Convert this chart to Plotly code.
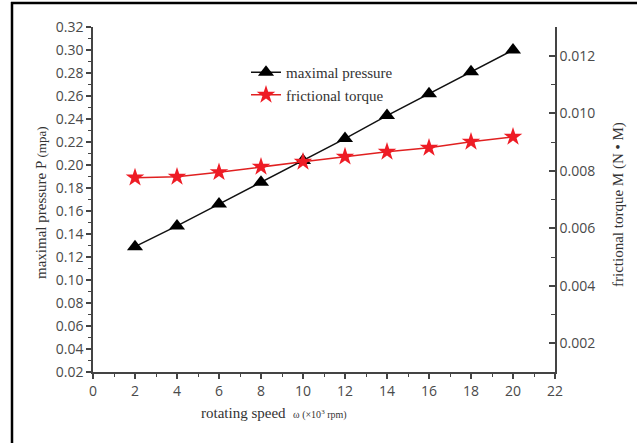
import plotly.graph_objects as go

speed = [2, 4, 6, 8, 10, 12, 14, 16, 18, 20]
max_pressure = [0.129, 0.147, 0.166, 0.185, 0.204, 0.223, 0.243, 0.262, 0.281, 0.300]
fric_torque = [0.00776, 0.00779, 0.00795, 0.00814, 0.00831, 0.00849, 0.00866, 0.00880, 0.00901, 0.00918]

L, R, T, B = 93, 82, 27, 71
W, H = 637, 443
pw, ph = W - L - R, H - T - B

def px(x):
    return (x - L) / pw

def py(y):
    return 1 - (y - T) / ph

fig = go.Figure()
fig.add_trace(go.Scatter(
    x=speed, y=max_pressure, name="maximal pressure", mode="lines+markers",
    line=dict(color="#111111", width=1.5),
    marker=dict(symbol="triangle-up", size=14, color="#000000"),
    yaxis="y"))
fig.add_trace(go.Scatter(
    x=speed, y=fric_torque, name="frictional torque", mode="lines+markers",
    line=dict(color="#e02020", width=1.5),
    marker=dict(symbol="star", size=14, color="#ee1c25"),
    yaxis="y2"))

tickfont = dict(family="Open Sans", size=14, color="#4a4a4a")
axcol = "#444444"

fig.update_layout(
    width=W, height=H,
    margin=dict(l=L, r=R, t=T, b=B),
    paper_bgcolor="white", plot_bgcolor="white",
    showlegend=True,
    legend=dict(x=px(246), y=py(56), xanchor="left", yanchor="top",
                bgcolor="rgba(0,0,0,0)",
                font=dict(family="Liberation Serif", size=15, color="#333333"),
                tracegroupgap=0, itemwidth=30),
    xaxis=dict(range=[0, 22], dtick=2, tick0=0, showgrid=False, zeroline=False,
               showline=True, linecolor=axcol, linewidth=1.5,
               ticks="outside", ticklen=5, tickcolor=axcol, tickwidth=1.5,
               tickfont=tickfont,
               minor=dict(dtick=1, ticks="outside", ticklen=3, tickcolor=axcol, tickwidth=1.2)),
    yaxis=dict(range=[0.02, 0.32], dtick=0.02, tick0=0, tickformat=".2f",
               showgrid=False, zeroline=False,
               showline=True, linecolor=axcol, linewidth=1.5,
               ticks="outside", ticklen=5, tickcolor=axcol, tickwidth=1.5,
               tickfont=tickfont,
               minor=dict(dtick=0.01, ticks="outside", ticklen=3, tickcolor=axcol, tickwidth=1.2)),
    yaxis2=dict(range=[0.001, 0.013], dtick=0.002, tick0=0, tickformat=".3f",
                overlaying="y", side="right", showgrid=False, zeroline=False,
                showline=True, linecolor=axcol, linewidth=1.5,
                ticks="inside", ticklen=6, tickcolor=axcol, tickwidth=1.5,
                tickfont=tickfont,
                minor=dict(dtick=0.001, ticks="inside", ticklen=4, tickcolor=axcol, tickwidth=1.2)),
)

titlefont = dict(family="Liberation Serif", size=15, color="#333333")
fig.add_annotation(
    text="rotating speed  <span style='font-size:10px'>ω (×10<sup>3</sup> rpm)</span>",
    xref="paper", yref="paper", x=px(274), y=py(413), xanchor="center", yanchor="middle",
    showarrow=False, font=titlefont)
fig.add_annotation(
    text="maximal pressure P <span style='font-size:13px'>(mpa)</span>",
    xref="paper", yref="paper", x=px(41), y=py(203), xanchor="center", yanchor="middle",
    textangle=-90, showarrow=False, font=titlefont)
fig.add_annotation(
    text="frictional torque M (N • M)",
    xref="paper", yref="paper", x=px(618), y=py(205), xanchor="center", yanchor="middle",
    textangle=-90, showarrow=False, font=titlefont)

# outer frame (only left and top edges visible)
fig.add_shape(type="line", xref="paper", yref="paper",
              x0=px(12), x1=px(12), y0=py(2), y1=py(450),
              line=dict(color="black", width=2.5))
fig.add_shape(type="line", xref="paper", yref="paper",
              x0=px(11), x1=px(645), y0=py(3), y1=py(3),
              line=dict(color="black", width=2.5))

fig.write_html("out.html")
